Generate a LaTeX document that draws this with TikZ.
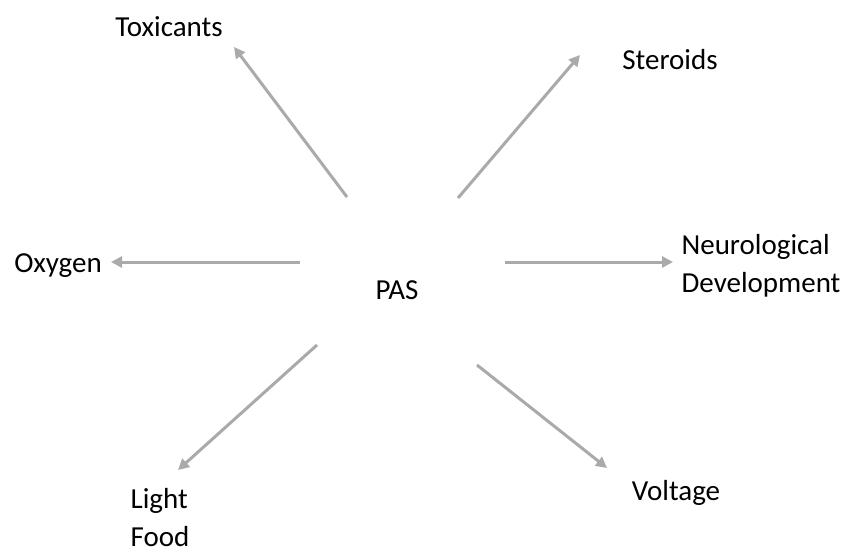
\documentclass[tikz,border=0pt]{standalone}
\usepackage{fontspec}
\setmainfont{Carlito}
\usetikzlibrary{arrows.meta}
\definecolor{arrowgray}{HTML}{AAAAAA}
\tikzset{
  lbl/.style={font=\fontsize{29}{38}\selectfont, inner sep=0pt, align=left, text=black},
  conn/.style={draw=arrowgray, line width=3pt, -{Triangle[length=11pt,width=11pt]}}
}
\begin{document}
\begin{tikzpicture}[x=1pt,y=-1pt]
\useasboundingbox[fill=white] (0,0) rectangle (851,555);
\node[lbl] (pas) at (397,290) {PAS};
\node[lbl] (tox) at (169,27) {Toxicants};
\node[lbl] (ster) at (670,60) {Steroids};
\node[lbl] (oxy) at (58,266) {Oxygen};
\node[lbl] (neuro) at (761,266) {Neurological\\Development};
\node[lbl] (light) at (160,518) {Light\\Food};
\node[lbl] (volt) at (676,493) {Voltage};
\coordinate (s1) at (347,197); \coordinate (e1) at (234,47);
\coordinate (s2) at (458,198); \coordinate (e2) at (580,55);
\coordinate (s3) at (300,262); \coordinate (e3) at (111,262);
\coordinate (s4) at (505,262); \coordinate (e4) at (673,262);
\coordinate (s5) at (317,345); \coordinate (e5) at (178,470);
\coordinate (s6) at (477,365); \coordinate (e6) at (607,468);
\draw[conn] (s1) -- (e1);
\draw[conn] (s2) -- (e2);
\draw[conn] (s3) -- (e3);
\draw[conn] (s4) -- (e4);
\draw[conn] (s5) -- (e5);
\draw[conn] (s6) -- (e6);
\end{tikzpicture}
\end{document}
